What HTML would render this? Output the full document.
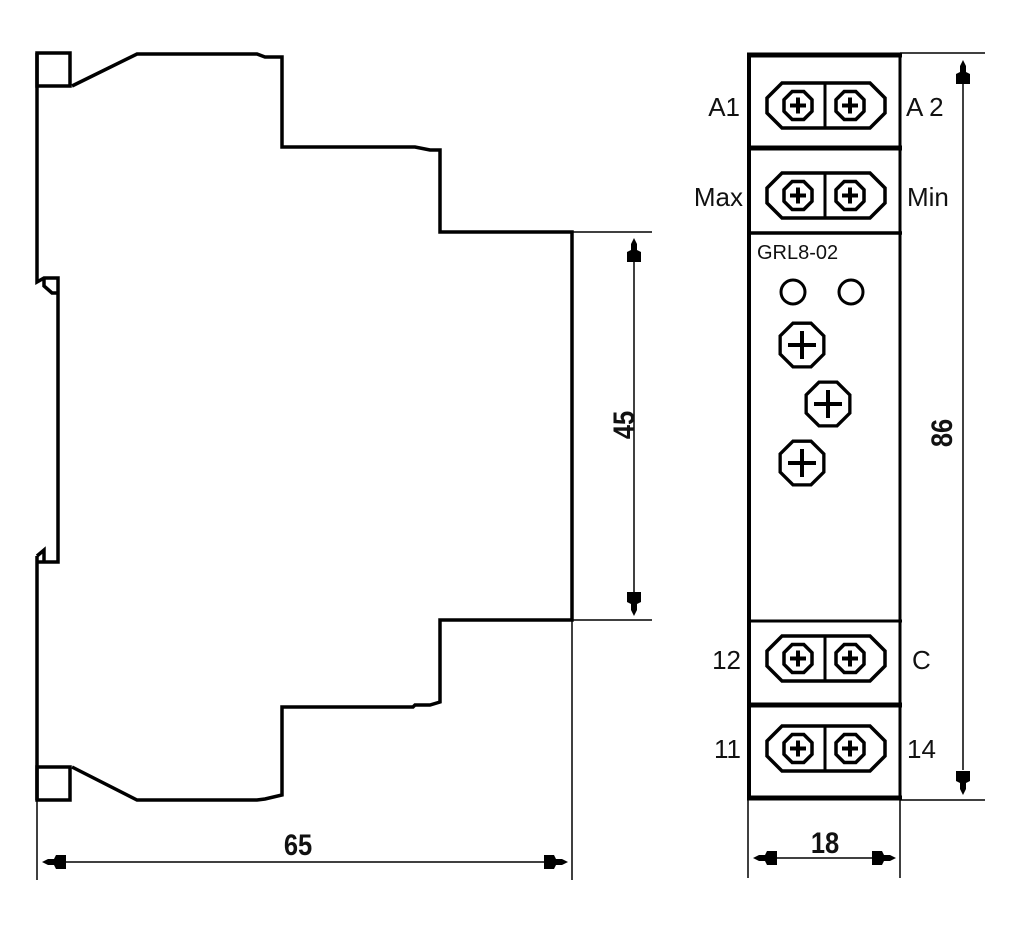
<!DOCTYPE html>
<html><head><meta charset="utf-8"><style>
html,body{margin:0;padding:0;background:#fff;}
svg{display:block;}
text{font-family:"Liberation Sans",sans-serif;fill:#111;}
.b{font-family:"Liberation Sans",sans-serif;font-weight:bold;font-size:30px;}
</style></head><body>
<svg width="1024" height="936" viewBox="0 0 1024 936" xmlns="http://www.w3.org/2000/svg">
<defs>
<g id="scr">
<polygon points="-5.8,-14 5.8,-14 14,-5.8 14,5.8 5.8,14 -5.8,14 -14,5.8 -14,-5.8" fill="none" stroke="#000" stroke-width="3.5"/>
<path d="M-8,0H8M0,-8V8" stroke="#000" stroke-width="4"/>
</g>
<g id="blk">
<path d="M782,0 H870 L885,15 V30 L870,45 H782 L767,30 V15 Z" fill="none" stroke="#000" stroke-width="3.5"/>
<line x1="825" y1="0" x2="825" y2="45" stroke="#000" stroke-width="3"/>
<use href="#scr" x="798" y="22.5"/>
<use href="#scr" x="850" y="22.5"/>
</g>
<g id="bscr">
<polygon points="-9.5,-23 9.5,-23 23,-9.5 23,9.5 9.5,23 -9.5,23 -23,9.5 -23,-9.5" fill="none" stroke="#000" stroke-width="3.5" transform="scale(0.95)"/>
<path d="M-14,0H14M0,-14V14" stroke="#000" stroke-width="4"/>
</g>
<g id="arr"><path d="M0,0 L-3,6 L-3,12 L-7,14 L-7,24 L7,24 L7,14 L3,12 L3,6 Z" fill="#000"/></g>
</defs>

<!-- Left profile -->
<g fill="none" stroke="#000" stroke-width="3.5" stroke-linejoin="miter">
<rect x="37" y="53" width="33" height="33"/>
<rect x="37" y="767" width="33" height="33"/>
<path d="M72,86 L137,54 H257 L265,57 H282 V147 H415 L430,150 H440 V232 H572 V620 H440 V702 L430,705 H415 L413,707 H282 V795 L265,799 L257,800 H137 L72,767"/>
<path d="M37,53 V282 L44,278 H58 V562 H37"/>
<path d="M44,278 V286 L52,293 H58"/>
<path d="M37,556 L44,550 V562"/>
<path d="M37,556 V800"/>
</g>
<g stroke="#000" stroke-width="1.5">
<line x1="37" y1="800" x2="37" y2="880"/>
<line x1="572" y1="620" x2="572" y2="880"/>
<line x1="572" y1="232" x2="652" y2="232"/>
<line x1="572" y1="620" x2="652" y2="620"/>
<line x1="60" y1="862" x2="550" y2="862"/>
<line x1="634" y1="255" x2="634" y2="600"/>
</g>
<use href="#arr" transform="translate(42,862) rotate(-90)"/>
<use href="#arr" transform="translate(568,862) rotate(90)"/>
<use href="#arr" transform="translate(634,238)"/>
<use href="#arr" transform="translate(634,616) rotate(180)"/>
<text class="b" transform="translate(298,855) scale(0.85,1)" text-anchor="middle">65</text>
<text class="b" transform="translate(634,425) rotate(-90) scale(0.85,1)" text-anchor="middle">45</text>

<!-- Right front view -->
<g fill="none" stroke="#000">
<line x1="749" y1="53" x2="749" y2="800" stroke-width="4"/>
<line x1="900" y1="53" x2="900" y2="800" stroke-width="3"/>
<line x1="747" y1="55" x2="902" y2="55" stroke-width="5"/>
<line x1="747" y1="148" x2="902" y2="148" stroke-width="5"/>
<line x1="747" y1="233" x2="902" y2="233" stroke-width="3.5"/>
<line x1="747" y1="621" x2="902" y2="621" stroke-width="3"/>
<line x1="747" y1="705" x2="902" y2="705" stroke-width="5"/>
<line x1="747" y1="798" x2="902" y2="798" stroke-width="5"/>
<circle cx="793" cy="292" r="12" stroke-width="3"/>
<circle cx="851" cy="292" r="12" stroke-width="3"/>
</g>
<use href="#blk" y="83"/>
<use href="#blk" y="173"/>
<use href="#blk" y="636"/>
<use href="#blk" y="726"/>
<use href="#bscr" x="802" y="345"/>
<use href="#bscr" x="828" y="404"/>
<use href="#bscr" x="802" y="463"/>

<g>
<text x="740" y="116" text-anchor="end" style="font-size:26px">A1</text>
<text x="906" y="116" style="font-size:26px">A 2</text>
<text x="743" y="206" text-anchor="end" style="font-size:26px">Max</text>
<text x="907" y="206" style="font-size:26px">Min</text>
<text x="741" y="669" text-anchor="end" style="font-size:26px">12</text>
<text x="912" y="669" style="font-size:26px">C</text>
<text x="741" y="758" text-anchor="end" style="font-size:26px">11</text>
<text x="907" y="758" style="font-size:26px">14</text>
<text x="757" y="259" style="font-size:20px">GRL8-02</text>
</g>

<g stroke="#000" stroke-width="1.5">
<line x1="900" y1="53" x2="985" y2="53"/>
<line x1="900" y1="800" x2="985" y2="800"/>
<line x1="963" y1="80" x2="963" y2="770"/>
<line x1="748" y1="800" x2="748" y2="878"/>
<line x1="900" y1="800" x2="900" y2="878"/>
<line x1="775" y1="858" x2="875" y2="858"/>
</g>
<use href="#arr" transform="translate(963,60)"/>
<use href="#arr" transform="translate(963,795) rotate(180)"/>
<use href="#arr" transform="translate(753,858) rotate(-90)"/>
<use href="#arr" transform="translate(896,858) rotate(90)"/>
<text class="b" transform="translate(825,853) scale(0.85,1)" text-anchor="middle">18</text>
<text class="b" transform="translate(952,433) rotate(-90) scale(0.85,1)" text-anchor="middle">86</text>
</svg>
</body></html>
